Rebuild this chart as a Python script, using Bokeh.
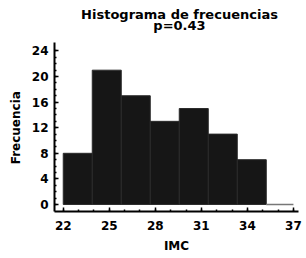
from bokeh.plotting import figure
from bokeh.models import Label, FixedTicker, Range1d, LinearAxis
from bokeh.embed import file_html
from bokeh.resources import INLINE

# Data
bin_edges = [22.0, 23.89, 25.78, 27.67, 29.56, 31.45, 33.34, 35.23]
counts = [8, 21, 17, 13, 15, 11, 7]
x_ticks = [22, 25, 28, 31, 34, 37]
y_ticks = [0, 4, 8, 12, 16, 20, 24]
title_main = "Histograma de frecuencias"
title_sub = "p=0.43"
x_label = "IMC"
y_label = "Frecuencia"

FONT = "DejaVu Sans"
W, H = 306, 258
BL, BR, BT, BB = 54, 8, 4, 47
FW, FH = W - BL - BR, H - BT - BB

X0, X1 = 21.43, 37.33
Y0, Y1 = -1.1, 31.27
AXIS_TOP = 25.3

def sx_to_data(px):
    return X0 + (px - BL) / FW * (X1 - X0)

def sy_to_data(py):
    return Y1 - (py - BT) / FH * (Y1 - Y0)

p = figure(width=W, height=H, output_backend="svg", toolbar_location=None,
           title=None, x_range=Range1d(X0, X1), y_range=Range1d(Y0, Y1),
           min_border_left=BL, min_border_right=BR, min_border_top=BT, min_border_bottom=BB)
p.outline_line_color = None
p.xgrid.grid_line_color = None
p.ygrid.grid_line_color = None
p.background_fill_color = "white"
p.border_fill_color = "white"

p.quad(left=bin_edges[:-1], right=bin_edges[1:], bottom=0, top=counts,
       fill_color="#161616", line_color="#2a2a2a", line_width=1)
p.segment(x0=[bin_edges[-1]], y0=[0], x1=[x_ticks[-1]], y1=[0],
          line_color="#777777", line_width=1.5)

for txt, cy in ((title_main, 14), (title_sub, 25)):
    p.add_layout(Label(x=sx_to_data(179), y=sy_to_data(cy),
                       text=txt, text_align="center", text_baseline="middle",
                       text_font=FONT, text_font_size="13px", text_font_style="bold",
                       text_color="black"))

xax = p.xaxis[0]
yax = p.yaxis[0]
for ax in (xax, yax):
    ax.axis_line_color = "black"
    ax.axis_line_width = 2
    ax.major_tick_in = 4
    ax.major_tick_out = 0
    ax.minor_tick_in = 2
    ax.minor_tick_out = 0
    ax.major_tick_line_color = "black"
    ax.minor_tick_line_color = "black"
    ax.major_tick_line_width = 1.5
    ax.minor_tick_line_width = 1.5
    ax.major_label_text_font = FONT
    ax.major_label_text_font_style = "bold"
    ax.major_label_text_font_size = "12px"
    ax.major_label_text_color = "black"
    ax.axis_label_text_font = FONT
    ax.axis_label_text_font_style = "bold"
    ax.axis_label_text_font_size = "12px"
    ax.axis_label_text_color = "black"

yax.bounds = (Y0, AXIS_TOP)
xax.ticker = FixedTicker(ticks=x_ticks, minor_ticks=list(range(x_ticks[0], x_ticks[-1] + 1)))
yax.ticker = FixedTicker(ticks=y_ticks, minor_ticks=list(range(y_ticks[0], y_ticks[-1] + 1)))
xax.axis_label = x_label
xax.major_label_standoff = 9
xax.axis_label_standoff = 6
yax.major_label_standoff = 6

# y-axis title, centred on the drawn part of the axis
mid = round((Y0 + AXIS_TOP) / 2)
ylab_axis = LinearAxis(ticker=FixedTicker(ticks=[mid], minor_ticks=[]),
                       major_label_overrides={mid: y_label},
                       major_label_orientation="vertical",
                       axis_line_color=None, major_tick_line_color=None,
                       minor_tick_line_color=None, major_tick_in=0, major_tick_out=0,
                       minor_tick_in=0, minor_tick_out=0, major_label_standoff=5,
                       major_label_text_font=FONT, major_label_text_font_style="bold",
                       major_label_text_font_size="12px", major_label_text_color="black")
p.add_layout(ylab_axis, "left")

open("out.html", "w").write(file_html(p, INLINE))
